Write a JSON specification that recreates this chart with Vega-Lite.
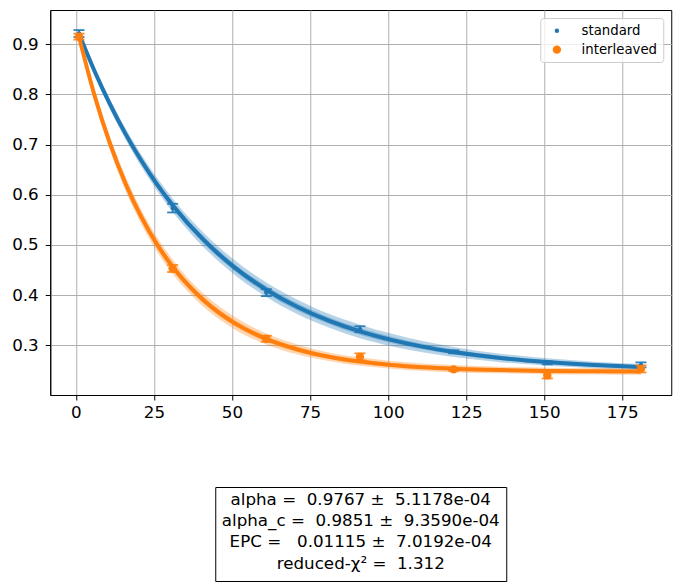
{
  "$schema": "https://vega.github.io/schema/vega-lite/v6.json",
  "padding": {"left": 11, "top": 9, "right": 5, "bottom": 0},
  "background": "white",
  "datasets": {
    "fit": [
      {"series":"standard","x":1,"fit":0.9209,"lo2":0.9149,"hi2":0.9269,"lo1":0.9179,"hi1":0.9239},
      {"series":"standard","x":6,"fit":0.8460,"lo2":0.8375,"hi2":0.8545,"lo1":0.8418,"hi1":0.8502},
      {"series":"standard","x":11,"fit":0.7794,"lo2":0.7694,"hi2":0.7894,"lo1":0.7744,"hi1":0.7844},
      {"series":"standard","x":16,"fit":0.7202,"lo2":0.7092,"hi2":0.7312,"lo1":0.7147,"hi1":0.7257},
      {"series":"standard","x":21,"fit":0.6676,"lo2":0.6556,"hi2":0.6796,"lo1":0.6616,"hi1":0.6736},
      {"series":"standard","x":26,"fit":0.6208,"lo2":0.6078,"hi2":0.6338,"lo1":0.6143,"hi1":0.6273},
      {"series":"standard","x":31,"fit":0.5792,"lo2":0.5657,"hi2":0.5927,"lo1":0.5725,"hi1":0.5859},
      {"series":"standard","x":41,"fit":0.5094,"lo2":0.4949,"hi2":0.5239,"lo1":0.5022,"hi1":0.5166},
      {"series":"standard","x":51,"fit":0.4543,"lo2":0.4398,"hi2":0.4688,"lo1":0.4471,"hi1":0.4615},
      {"series":"standard","x":61,"fit":0.4108,"lo2":0.3963,"hi2":0.4253,"lo1":0.4036,"hi1":0.4180},
      {"series":"standard","x":71,"fit":0.3764,"lo2":0.3619,"hi2":0.3909,"lo1":0.3692,"hi1":0.3836},
      {"series":"standard","x":81,"fit":0.3492,"lo2":0.3357,"hi2":0.3627,"lo1":0.3425,"hi1":0.3559},
      {"series":"standard","x":91,"fit":0.3277,"lo2":0.3142,"hi2":0.3412,"lo1":0.3210,"hi1":0.3344},
      {"series":"standard","x":101,"fit":0.3108,"lo2":0.2983,"hi2":0.3233,"lo1":0.3046,"hi1":0.3170},
      {"series":"standard","x":111,"fit":0.2974,"lo2":0.2864,"hi2":0.3084,"lo1":0.2919,"hi1":0.3029},
      {"series":"standard","x":121,"fit":0.2868,"lo2":0.2768,"hi2":0.2968,"lo1":0.2818,"hi1":0.2918},
      {"series":"standard","x":136,"fit":0.2749,"lo2":0.2664,"hi2":0.2834,"lo1":0.2707,"hi1":0.2791},
      {"series":"standard","x":151,"fit":0.2666,"lo2":0.2591,"hi2":0.2741,"lo1":0.2629,"hi1":0.2703},
      {"series":"standard","x":166,"fit":0.2608,"lo2":0.2543,"hi2":0.2673,"lo1":0.2576,"hi1":0.2640},
      {"series":"standard","x":181,"fit":0.2567,"lo2":0.2507,"hi2":0.2627,"lo1":0.2537,"hi1":0.2597},
      {"series":"interleaved","x":1,"fit":0.9147,"lo2":0.9072,"hi2":0.9222,"lo1":0.9110,"hi1":0.9184},
      {"series":"interleaved","x":6,"fit":0.7974,"lo2":0.7864,"hi2":0.8084,"lo1":0.7919,"hi1":0.8029},
      {"series":"interleaved","x":11,"fit":0.7007,"lo2":0.6872,"hi2":0.7142,"lo1":0.6940,"hi1":0.7074},
      {"series":"interleaved","x":16,"fit":0.6210,"lo2":0.6065,"hi2":0.6355,"lo1":0.6138,"hi1":0.6282},
      {"series":"interleaved","x":21,"fit":0.5553,"lo2":0.5408,"hi2":0.5698,"lo1":0.5481,"hi1":0.5625},
      {"series":"interleaved","x":26,"fit":0.5011,"lo2":0.4866,"hi2":0.5156,"lo1":0.4939,"hi1":0.5083},
      {"series":"interleaved","x":31,"fit":0.4565,"lo2":0.4420,"hi2":0.4710,"lo1":0.4493,"hi1":0.4637},
      {"series":"interleaved","x":36,"fit":0.4197,"lo2":0.4062,"hi2":0.4332,"lo1":0.4130,"hi1":0.4264},
      {"series":"interleaved","x":41,"fit":0.3894,"lo2":0.3759,"hi2":0.4029,"lo1":0.3827,"hi1":0.3961},
      {"series":"interleaved","x":51,"fit":0.3437,"lo2":0.3312,"hi2":0.3562,"lo1":0.3375,"hi1":0.3499},
      {"series":"interleaved","x":61,"fit":0.3127,"lo2":0.3017,"hi2":0.3237,"lo1":0.3072,"hi1":0.3182},
      {"series":"interleaved","x":71,"fit":0.2917,"lo2":0.2817,"hi2":0.3017,"lo1":0.2867,"hi1":0.2967},
      {"series":"interleaved","x":81,"fit":0.2773,"lo2":0.2688,"hi2":0.2858,"lo1":0.2731,"hi1":0.2815},
      {"series":"interleaved","x":91,"fit":0.2676,"lo2":0.2591,"hi2":0.2761,"lo1":0.2634,"hi1":0.2718},
      {"series":"interleaved","x":101,"fit":0.2610,"lo2":0.2535,"hi2":0.2685,"lo1":0.2573,"hi1":0.2647},
      {"series":"interleaved","x":111,"fit":0.2565,"lo2":0.2490,"hi2":0.2640,"lo1":0.2528,"hi1":0.2602},
      {"series":"interleaved","x":121,"fit":0.2535,"lo2":0.2460,"hi2":0.2610,"lo1":0.2498,"hi1":0.2572},
      {"series":"interleaved","x":136,"fit":0.2506,"lo2":0.2441,"hi2":0.2571,"lo1":0.2474,"hi1":0.2538},
      {"series":"interleaved","x":151,"fit":0.2490,"lo2":0.2425,"hi2":0.2555,"lo1":0.2458,"hi1":0.2522},
      {"series":"interleaved","x":166,"fit":0.2481,"lo2":0.2416,"hi2":0.2546,"lo1":0.2449,"hi1":0.2513},
      {"series":"interleaved","x":181,"fit":0.2476,"lo2":0.2411,"hi2":0.2541,"lo1":0.2444,"hi1":0.2508}
    ],
    "pts": [
      {"series":"standard","x":1,"y":0.921,"lo":0.914,"hi":0.928},
      {"series":"standard","x":31,"y":0.5733,"lo":0.5647,"hi":0.5819},
      {"series":"standard","x":61,"y":0.405,"lo":0.398,"hi":0.412},
      {"series":"standard","x":91,"y":0.332,"lo":0.326,"hi":0.338},
      {"series":"standard","x":121,"y":0.287,"lo":0.284,"hi":0.290},
      {"series":"standard","x":151,"y":0.265,"lo":0.262,"hi":0.268},
      {"series":"standard","x":181,"y":0.261,"lo":0.256,"hi":0.266},
      {"series":"interleaved","x":1,"y":0.915,"lo":0.909,"hi":0.921},
      {"series":"interleaved","x":31,"y":0.453,"lo":0.446,"hi":0.460},
      {"series":"interleaved","x":61,"y":0.313,"lo":0.307,"hi":0.319},
      {"series":"interleaved","x":91,"y":0.277,"lo":0.270,"hi":0.284},
      {"series":"interleaved","x":121,"y":0.252,"lo":0.249,"hi":0.255},
      {"series":"interleaved","x":151,"y":0.240,"lo":0.234,"hi":0.246},
      {"series":"interleaved","x":181,"y":0.253,"lo":0.246,"hi":0.260}
    ],
    "box": [
      {"line":1,"label":"alpha =\u00a0\u00a00.9767 ±\u00a0\u00a05.1178e-04"},
      {"line":2,"label":"alpha_c =\u00a0\u00a00.9851 ±\u00a0\u00a09.3590e-04"},
      {"line":3,"label":"EPC =\u00a0\u00a0\u00a00.01115 ±\u00a0\u00a07.0192e-04"},
      {"line":4,"label":"reduced-χ\u00b2 =\u00a0\u00a01.312"}
    ]
  },
  "resolve": {"legend": {"color": "independent", "size": "independent"}, "scale": {"color": "independent", "size": "independent"}},
  "vconcat": [
    {
      "width": 621,
      "height": 385,
      "layer": [
        {
          "data": {"name": "fit"},
          "mark": {"type": "area", "opacity": 0.32, "interpolate": "monotone"},
          "encoding": {
            "x": {"field": "x", "type": "quantitative", "scale": {"domain": [-8.2, 190.7], "nice": false, "zero": false},
                  "axis": {"title": null, "values": [0,25,50,75,100,125,150,175], "labelPadding": 4}},
            "y": {"field": "lo2", "type": "quantitative", "scale": {"domain": [0.201, 0.968], "nice": false, "zero": false},
                  "axis": {"title": null, "values": [0.3,0.4,0.5,0.6,0.7,0.8,0.9], "format": ".1f", "labelPadding": 7}},
            "y2": {"field": "hi2"},
            "fill": {"field": "series", "type": "nominal", "scale": {"domain": ["standard","interleaved"], "range": ["#1f77b4","#ff7f0e"]}, "legend": null}
          }
        },
        {
          "data": {"name": "fit"},
          "mark": {"type": "area", "opacity": 0.32, "interpolate": "monotone"},
          "encoding": {
            "x": {"field": "x", "type": "quantitative", "title": null},
            "y": {"field": "lo1", "type": "quantitative", "title": null},
            "y2": {"field": "hi1"},
            "fill": {"field": "series", "type": "nominal", "legend": null}
          }
        },
        {
          "data": {"name": "fit"},
          "mark": {"type": "line", "strokeWidth": 4, "interpolate": "monotone"},
          "encoding": {
            "x": {"field": "x", "type": "quantitative", "title": null},
            "y": {"field": "fit", "type": "quantitative", "title": null},
            "stroke": {"field": "series", "type": "nominal", "scale": {"domain": ["standard","interleaved"], "range": ["#1f77b4","#ff7f0e"]}, "legend": null}
          }
        },
        {
          "data": {"name": "pts"},
          "mark": {"type": "rule", "strokeWidth": 1.8, "opacity": 0.9},
          "encoding": {
            "x": {"field": "x", "type": "quantitative", "title": null},
            "y": {"field": "lo", "type": "quantitative", "title": null},
            "y2": {"field": "hi"},
            "stroke": {"field": "series", "type": "nominal", "legend": null}
          }
        },
        {
          "data": {"name": "pts"},
          "mark": {"type": "tick", "orient": "horizontal", "size": 11, "thickness": 1.8, "opacity": 0.9},
          "encoding": {
            "x": {"field": "x", "type": "quantitative", "title": null},
            "y": {"field": "lo", "type": "quantitative", "title": null},
            "fill": {"field": "series", "type": "nominal", "legend": null}
          }
        },
        {
          "data": {"name": "pts"},
          "mark": {"type": "tick", "orient": "horizontal", "size": 11, "thickness": 1.8, "opacity": 0.9},
          "encoding": {
            "x": {"field": "x", "type": "quantitative", "title": null},
            "y": {"field": "hi", "type": "quantitative", "title": null},
            "fill": {"field": "series", "type": "nominal", "legend": null}
          }
        },
        {
          "data": {"name": "pts"},
          "mark": {"type": "point", "filled": true, "opacity": 1},
          "encoding": {
            "x": {"field": "x", "type": "quantitative", "title": null},
            "y": {"field": "y", "type": "quantitative", "title": null},
            "size": {"field": "series", "type": "nominal", "scale": {"domain": ["standard","interleaved"], "range": [20, 70]}, "legend": null},
            "color": {"field": "series", "type": "nominal", "scale": {"domain": ["standard","interleaved"], "range": ["#1f77b4","#ff7f0e"]},
              "legend": {
                "title": null, "orient": "top-right", "offset": 8,
                "fillColor": "rgba(255,255,255,0.8)", "strokeColor": "#cccccc", "cornerRadius": 3,
                "padding": 6, "symbolOffset": 4, "labelOffset": 18, "rowPadding": 5,
                "symbolSize": 225, "symbolStrokeWidth": 1.5,
                "labelFont": "DejaVu Sans", "labelFontSize": 13.3, "labelColor": "black",
                "encode": {
                  "symbols": {
                    "update": {
                      "shape": {"signal": "datum.value === 'standard' ? 'M-0.53,-1H0.53M0,-1V1M-0.53,1H0.53M0.27,0A0.27,0.27,0,1,1,-0.27,0A0.27,0.27,0,1,1,0.27,0Z' : 'M-0.8,-1H0.8M0,-1V1M-0.8,1H0.8M0.62,0A0.62,0.62,0,1,1,-0.62,0A0.62,0.62,0,1,1,0.62,0Z'"},
                      "size": {"value": 225},
                      "stroke": {"signal": "datum.value === 'standard' ? '#1f77b4' : '#ff7f0e'"},
                      "fill": {"signal": "datum.value === 'standard' ? '#1f77b4' : '#ff7f0e'"},
                      "strokeWidth": {"value": 1.5},
                      "opacity": {"value": 0.85}
                    }
                  }
                }
              }
            }
          }
        }
      ]
    },
    {
      "width": 291,
      "height": 94,
      "data": {"name": "box"},
      "mark": {"type": "text", "font": "DejaVu Sans", "fontSize": 16.7, "baseline": "middle", "align": "center", "color": "black"},
      "encoding": {
        "y": {"field": "line", "type": "quantitative", "scale": {"domain": [0.4, 4.82], "reverse": true, "nice": false, "zero": false},
              "axis": {"title": null, "labels": false, "ticks": false, "domain": false, "grid": false, "minExtent": 38, "maxExtent": 38}},
        "text": {"field": "label"}
      }
    }
  ],
  "spacing": 64,
  "center": true,
  "config": {
    "view": {"stroke": "black", "strokeWidth": 1},
    "axis": {
      "labelFont": "DejaVu Sans", "labelFontSize": 16.7, "labelColor": "black",
      "tickColor": "black", "tickSize": 5, "tickWidth": 1,
      "domainColor": "black", "domainWidth": 1,
      "grid": true, "gridColor": "#b0b0b0", "gridWidth": 1
    }
  }
}
